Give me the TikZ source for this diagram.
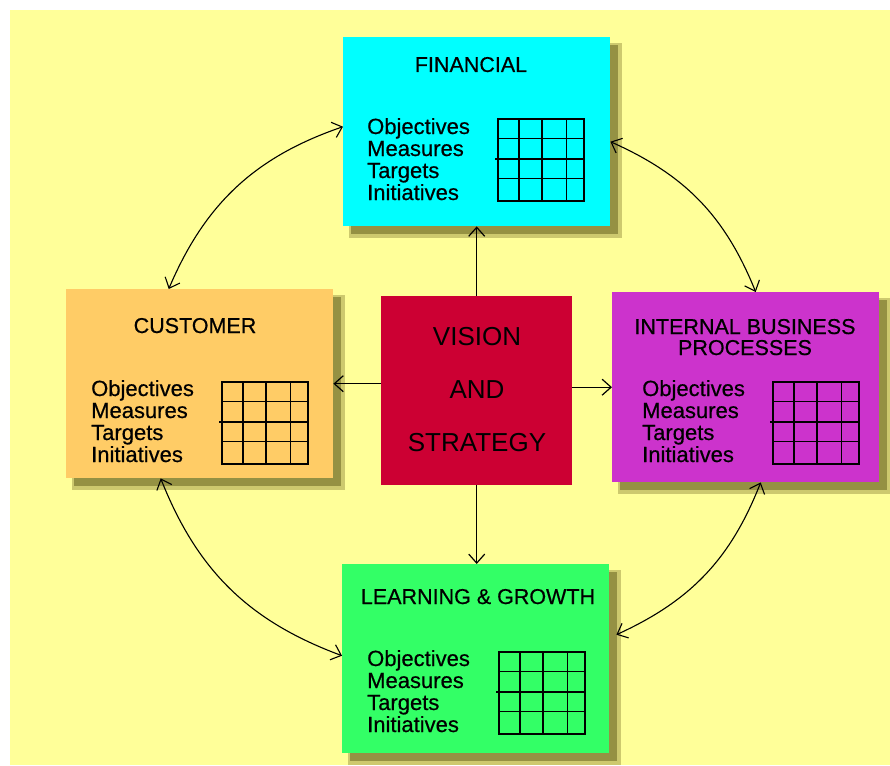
\documentclass[tikz,border=0pt]{standalone}
\usepackage{fontspec}
\setmainfont{Liberation Sans}
\newfontfamily\heavyfont{Liberation Sans}[FakeBold=0.5]
\usetikzlibrary{arrows.meta,backgrounds,calc}
\definecolor{bgyellow}{HTML}{FFFF99}
\definecolor{fincol}{HTML}{00FFFF}
\definecolor{cuscol}{HTML}{FFCC66}
\definecolor{intcol}{HTML}{CC33CC}
\definecolor{leacol}{HTML}{33FF66}
\definecolor{viscol}{HTML}{CC0033}
\definecolor{shdark}{HTML}{959143}
\definecolor{shlight}{HTML}{CDC96E}
\newcommand\bscgrid[2]{%
  \begin{scope}[shift={(#1,#2)},line width=1.6pt]
    \draw (0,0) rectangle (86,82);
    \foreach \gx in {21,44,68.5} \draw (\gx,0) -- (\gx,82);
    \foreach \gy in {19.5,40,59.5} \draw (0,\gy) -- (86,\gy);
    \draw (-3,40) -- (0,40);
  \end{scope}}
\newcommand\bscitems[3]{%
  \foreach \t [count=\i] in {Objectives,Measures,Targets,Initiatives}
    \node[itm] (#1-t\i) at (#2,{#3+22*(\i-1)}) {\t};}
\begin{document}
\begin{tikzpicture}[x=1pt,y=-1pt,
  pbox/.style={rectangle,inner sep=0pt,anchor=north west,minimum width=267pt,minimum height=189pt},
  ttl/.style={anchor=base,inner sep=0pt,font=\heavyfont\fontsize{21.5}{22}\selectfont},
  itm/.style={anchor=base west,inner sep=0pt,font=\heavyfont\fontsize{22}{22}\selectfont},
  vtx/.style={anchor=base,inner sep=0pt,font=\fontsize{26}{26}\selectfont},
  arr/.style={line width=1.2pt,-{Straight Barb[length=9pt,width=16pt,line width=1.2pt]}},
  darr/.style={line width=1.1pt,{Straight Barb[length=9pt,width=16pt,line width=1.1pt]}-{Straight Barb[length=9pt,width=16pt,line width=1.1pt]}}]
\useasboundingbox (0,0) rectangle (890,765);
% boxes
\node[pbox,fill=fincol] (fin) at (343,37) {};
\node[pbox,fill=cuscol] (cus) at (66,289) {};
\node[pbox,fill=intcol,minimum height=190pt] (int) at (612,292) {};
\node[pbox,fill=leacol] (lea) at (342,564) {};
\node[pbox,fill=viscol,minimum width=191pt] (vis) at (381,296) {};
\begin{pgfonlayer}{background}
  \fill[white] (0,0) rectangle (890,765);
  \fill[bgyellow] (10,10) rectangle (890,765);
  \foreach \n in {fin,cus,int,lea} {
    \fill[shlight] ([shift={(6pt,-6pt)}]\n.north west) rectangle ([shift={(12pt,-12pt)}]\n.south east);
    \fill[shdark] ([shift={(8pt,-8pt)}]\n.north west) rectangle ([shift={(8pt,-8pt)}]\n.south east);
  }
\end{pgfonlayer}
% titles
\node[ttl] (fin-title) at (471,72) {FINANCIAL};
\node[ttl] (cus-title) at (195,333) {CUSTOMER};
\node[ttl] (int-title1) at (745,334) {INTERNAL BUSINESS};
\node[ttl] (int-title2) at (745,355) {PROCESSES};
\node[ttl] (lea-title) at (478,604) {LEARNING \& GROWTH};
\node[vtx] (vis-t1) at (477,345) {VISION};
\node[vtx] (vis-t2) at (477,398) {AND};
\node[vtx] (vis-t3) at (477,451) {STRATEGY};
% item lists
\bscitems{fin}{367}{134}
\bscitems{cus}{91}{396}
\bscitems{int}{642}{396}
\bscitems{lea}{367}{666}
% grids
\bscgrid{498}{119}
\bscgrid{222}{382}
\bscgrid{773}{382}
\bscgrid{499}{652}
% straight arrows
\draw[arr] (vis.north) -- (vis.north |- fin.south);
\draw[arr] (vis.west |- cus.east) -- (cus.east);
\draw[arr] (vis.east |- int.west) -- (int.west);
\draw[arr] (vis.south) -- (vis.south |- lea.north);
% curved arrows
\draw[darr] ([xshift=-31pt]cus.north) to[bend left=24] ([yshift=5pt]fin.west);
\draw[darr] ([yshift=-10pt]fin.east) to[bend left=22] ([xshift=10pt]int.north);
\draw[darr] ([xshift=15pt]int.south) to[bend left=22] ([shift={(7pt,24pt)}]lea.east);
\draw[darr] ([yshift=3pt]lea.west) to[bend left=24] ([xshift=-39pt]cus.south);
\end{tikzpicture}
\end{document}
